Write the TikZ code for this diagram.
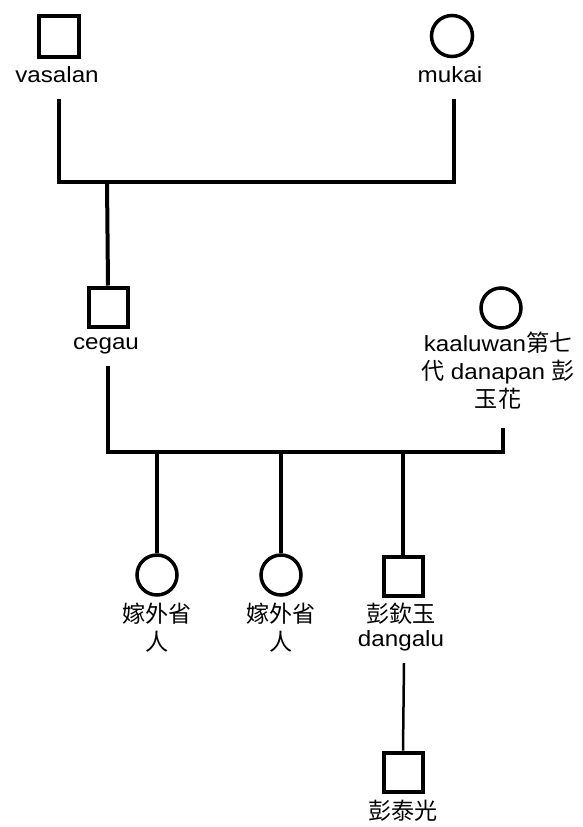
\documentclass[tikz,border=0pt]{standalone}
\usepackage{fontspec}
\setmainfont{Liberation Sans}[FakeStretch=1.1]
\newfontfamily\cjkfam{Noto Sans CJK TC}[Scale=1.05]
\newcommand{\zhtxt}[1]{{\cjkfam #1}}
\begin{document}
\begin{tikzpicture}[x=1pt,y=-1pt,
  male/.style={draw, line width=4pt, rectangle, minimum width=39pt, minimum height=39pt, inner sep=0pt},
  female/.style={draw, line width=3.5pt, circle, minimum size=40pt, inner sep=0pt},
  lab/.style={font=\fontsize{22}{28}\selectfont, align=center, inner sep=0pt, outer ysep=12pt, text depth=5pt, anchor=base},
  tie/.style={line width=4pt},
  thinline/.style={line width=2.5pt}]
\useasboundingbox (0,0) rectangle (582,827);
\fill[white] (0,0) rectangle (582,827);

% generation 1
\node[male, minimum width=40pt, minimum height=41pt] (vasalan) at (59,36) {};
\node[lab] (vasalanL) at (57,82) {vasalan};
\node[female, minimum size=41pt] (mukai) at (452,36) {};
\node[lab] (mukaiL) at (450,82) {mukai};
\coordinate (mar1) at (107,182);
\draw[tie] (vasalanL.south -| vasalan.center) |- (mar1) -| (mukaiL.south -| 454,0);

% generation 2
\node[male] (cegau) at (108,307) {};
\node[lab] (cegauL) at (106,349) {cegau};
\draw[tie] (mar1) -- (cegau.north);
\node[female] (kaal) at (501,308) {};
\node[lab, outer ysep=16pt] (kaalL) at (498,407) {kaaluwan\zhtxt{第七}\\\zhtxt{代} danapan \zhtxt{彭}\\\zhtxt{玉花}};
\coordinate (mar2) at (280,452);
\draw[tie] (cegauL.south -| cegau.center) |- (mar2) -| (kaalL.south -| 503,0);

% generation 3
\node[female] (d1) at (157,575) {};
\node[lab] (d1L) at (157,650) {\zhtxt{嫁外省}\\\zhtxt{人}};
\node[female] (d2) at (281,575) {};
\node[lab] (d2L) at (281,650) {\zhtxt{嫁外省}\\\zhtxt{人}};
\node[male] (s3) at (403,576) {};
\node[lab, font=\fontsize{22}{24}\selectfont] (s3L) at (401,646) {\zhtxt{彭欽玉}\\dangalu};
\draw[tie] (d1.north |- mar2) -- (d1.north);
\draw[tie] (d2.north |- mar2) -- (d2.north);
\draw[tie] (s3.north |- mar2) -- (s3.north);

% generation 4
\node[male] (g4) at (403,772) {};
\node[lab] (g4L) at (403,819) {\zhtxt{彭泰光}};
\draw[thinline] (s3L.south -| 404,0) -- (g4.north);
\end{tikzpicture}
\end{document}
